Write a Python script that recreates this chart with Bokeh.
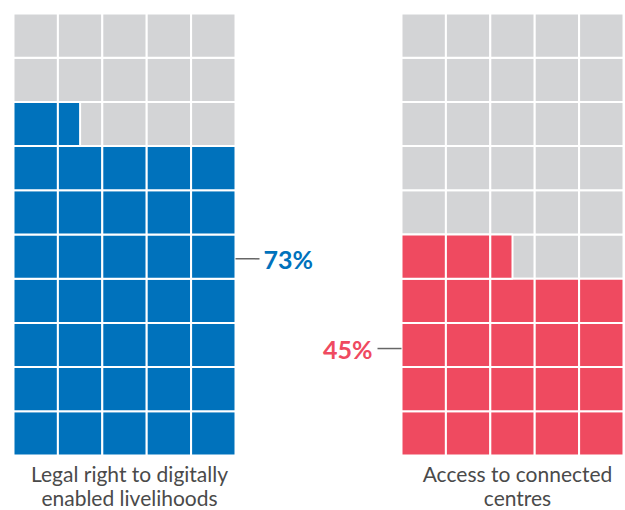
from bokeh.plotting import figure
from bokeh.models import Range1d, ColumnDataSource
from bokeh.core.properties import value
from bokeh.embed import file_html
from bokeh.resources import INLINE

# ---- data ----
categories = ["Legal right to digitally enabled livelihoods", "Access to connected centres"]
label_lines = [["Legal right to digitally", "enabled livelihoods"],
               ["Access to connected", "centres"]]
percentages = [73, 45]
pct_labels = ["73%", "45%"]
colors = ["#0072BC", "#EF4A60"]

# ---- layout (pixel coordinates of the page) ----
GREY = "#D3D4D6"
NCOLS, NROWS = 5, 10
PITCH_X, PITCH_Y = 44.4, 44.2
grid_left = [13, 401]
grid_top = 13
label_side = ["right", "left"]
label_frac = [0.445, 0.242]

W, H = 625, 510
p = figure(width=W, height=H, output_backend="svg", toolbar_location=None,
           x_range=Range1d(0, W), y_range=Range1d(H, 0),
           min_border=0, outline_line_color=None)
p.axis.visible = False
p.grid.visible = False
p.background_fill_color = "white"

gq = dict(left=[], right=[], top=[], bottom=[])
cq = dict(left=[], right=[], top=[], bottom=[], color=[])
per_cell = 100 / (NCOLS * NROWS)
for i, pct in enumerate(percentages):
    n = pct / per_cell
    x0 = grid_left[i]
    ybase = grid_top + NROWS * PITCH_Y
    for k in range(NCOLS * NROWS):
        row, col = divmod(k, NCOLS)
        l = x0 + col * PITCH_X
        b = ybase - row * PITCH_Y
        t = b - PITCH_Y
        gq["left"].append(l); gq["right"].append(l + PITCH_X)
        gq["top"].append(t); gq["bottom"].append(b)
        f = max(0.0, min(1.0, n - k))
        if f > 0:
            cq["left"].append(l); cq["right"].append(l + f * PITCH_X)
            cq["top"].append(t); cq["bottom"].append(b)
            cq["color"].append(colors[i])

p.quad(source=ColumnDataSource(gq), left="left", right="right", top="top", bottom="bottom",
       fill_color=GREY, line_color="white", line_width=2)
p.quad(source=ColumnDataSource(cq), left="left", right="right", top="top", bottom="bottom",
       fill_color="color", line_color="white", line_width=2)

# percentage labels with leader lines
for i, pct in enumerate(percentages):
    x0 = grid_left[i]
    x1 = x0 + NCOLS * PITCH_X
    ybot = grid_top + NROWS * PITCH_Y
    y = ybot - label_frac[i] * NROWS * PITCH_Y
    if label_side[i] == "right":
        p.line([x1, x1 + 24], [y, y], line_color="#666666", line_width=1.5)
        p.text(x=[x1 + 28], y=[y], text=[pct_labels[i]], text_color=colors[i],
               text_font=value("Lato"), text_font_size="25px", text_font_style="bold",
               text_align="left", text_baseline="middle")
    else:
        p.line([x0 - 24, x0], [y, y], line_color="#666666", line_width=1.5)
        p.text(x=[x0 - 29], y=[y], text=[pct_labels[i]], text_color=colors[i],
               text_font=value("Lato"), text_font_size="25px", text_font_style="bold",
               text_align="right", text_baseline="middle")

# category labels
for i, lines in enumerate(label_lines):
    cx = grid_left[i] + NCOLS * PITCH_X / 2 + 5
    ybot = grid_top + NROWS * PITCH_Y
    for j, line in enumerate(lines):
        p.text(x=[cx], y=[ybot + 18 + 23.5 * j], text=[line], text_color="#4A4A4A",
               text_font=value("Lato"), text_font_size="21px",
               text_align="center", text_baseline="middle")

open("out.html", "w").write(file_html(p, INLINE))
